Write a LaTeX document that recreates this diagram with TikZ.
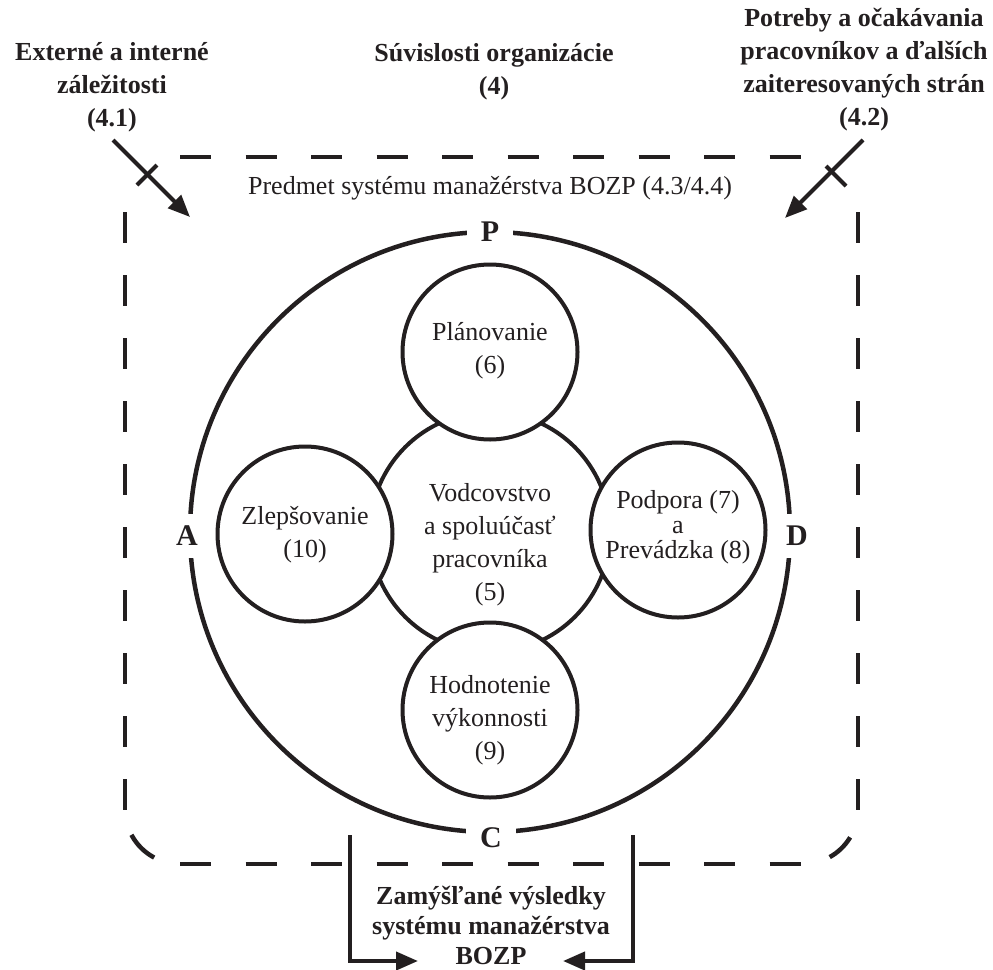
\documentclass[tikz,border=0pt]{standalone}
\usepackage{fontspec}
\setmainfont{Liberation Serif}
\usetikzlibrary{arrows.meta}
\definecolor{ink}{HTML}{231F20}
\begin{document}
\begin{tikzpicture}[x=1pt,y=-1pt,
  every node/.style={text=ink, inner sep=0pt},
  hd/.style={font=\fontsize{26}{33}\selectfont\bfseries, align=center},
  tx/.style={font=\fontsize{26}{33}\selectfont, align=center},
  ring/.style={draw=ink, line width=4.5pt},
  bub/.style={circle, draw=ink, fill=white, line width=4pt, minimum size=175pt},
  pdca/.style={font=\fontsize{30}{30}\selectfont\bfseries, fill=white, inner xsep=14pt, inner ysep=12pt},
  dsh/.style={draw=ink, line width=4.5pt},
  hdash/.style={dsh, dash pattern=on 31pt off 34.5pt},
  vdash/.style={dsh, dash pattern=on 31pt off 32pt},
  arr/.style={draw=ink, line width=4pt, -{Triangle[length=22pt,width=18pt]}},
  tickmark/.style={draw=ink, line width=4pt}
]
\useasboundingbox (0,0) rectangle (993,969);

% dashed scope boundary
\draw[hdash] (180,157) -- (804,157);
\draw[hdash] (180,864) -- (804,864);
\draw[vdash] (125,212) -- (125,810);
\draw[vdash] (858,212) -- (858,810);
\draw[dsh] (180,809) ++(118:55) arc[start angle=118, end angle=152, radius=55];
\draw[dsh] (803,809) ++(31:55) arc[start angle=31, end angle=61, radius=55];

% outer PDCA ring
\draw[ring] (490,532) circle[radius=300];

% circles
\node[circle, draw=ink, line width=4pt, minimum size=240pt] (lead) at (490,532) {};
\node[bub] (plan) at (490,352) {};
\node[bub] (impr) at (305,534) {};
\node[bub] (supp) at (678,530) {};
\node[bub] (eval) at (490,710) {};

\node[tx] (tplan) at (490,351) {Plánovanie\\(6)};
\node[tx] (timpr) at (305,535) {Zlepšovanie\\(10)};
\node[tx] (tlead) at (490,545) {Vodcovstvo\\a spoluúčasť\\pracovníka\\(5)};
\node[tx, font=\fontsize{26}{25}\selectfont] (tsupp) at (678,527) {Podpora (7)\\a\\Prevádzka (8)};
\node[tx] (teval) at (490,720) {Hodnotenie\\výkonnosti\\(9)};

\node[tx] (scope) at (490,188) {Predmet systému manažérstva BOZP (4.3/4.4)};

% PDCA letters
\node[pdca] (P) at (490,232) {P};
\node[pdca] (A) at (187,536) {A};
\node[pdca] (D) at (797,536) {D};
\node[pdca] (C) at (491,838) {C};

% headings
\node[hd] (ext) at (112,87) {Externé a interné\\záležitosti\\(4.1)};
\node[hd] (ctx) at (494,72) {Súvislosti organizácie\\(4)};
\node[hd] (need) at (864,70) {Potreby a očakávania\\pracovníkov a ďalších\\zaiteresovaných strán\\(4.2)};
\node[hd, font=\fontsize{26}{30}\selectfont\bfseries] (out) at (491,925) {Zamýšľané výsledky\\systému manažérstva\\BOZP};

% input arrows
\coordinate (e1) at (113,140);
\coordinate (e2) at (190,217);
\coordinate (et) at (147,175);
\draw[arr] (e1) -- (e2);
\draw[tickmark] (et) +(-10,10) -- +(10,-10);

\coordinate (n1) at (863,140);
\coordinate (n2) at (785,218);
\coordinate (nt) at (836,176);
\draw[arr] (n1) -- (n2);
\draw[tickmark] (nt) +(-10,-10) -- +(10,10);

% output arrows
\coordinate (oL) at (350,835);
\coordinate (oLt) at (418,961);
\coordinate (oR) at (633,835);
\coordinate (oRt) at (563,961);
\draw[arr] (oL) |- (oLt);
\draw[arr] (oR) |- (oRt);
\end{tikzpicture}
\end{document}
